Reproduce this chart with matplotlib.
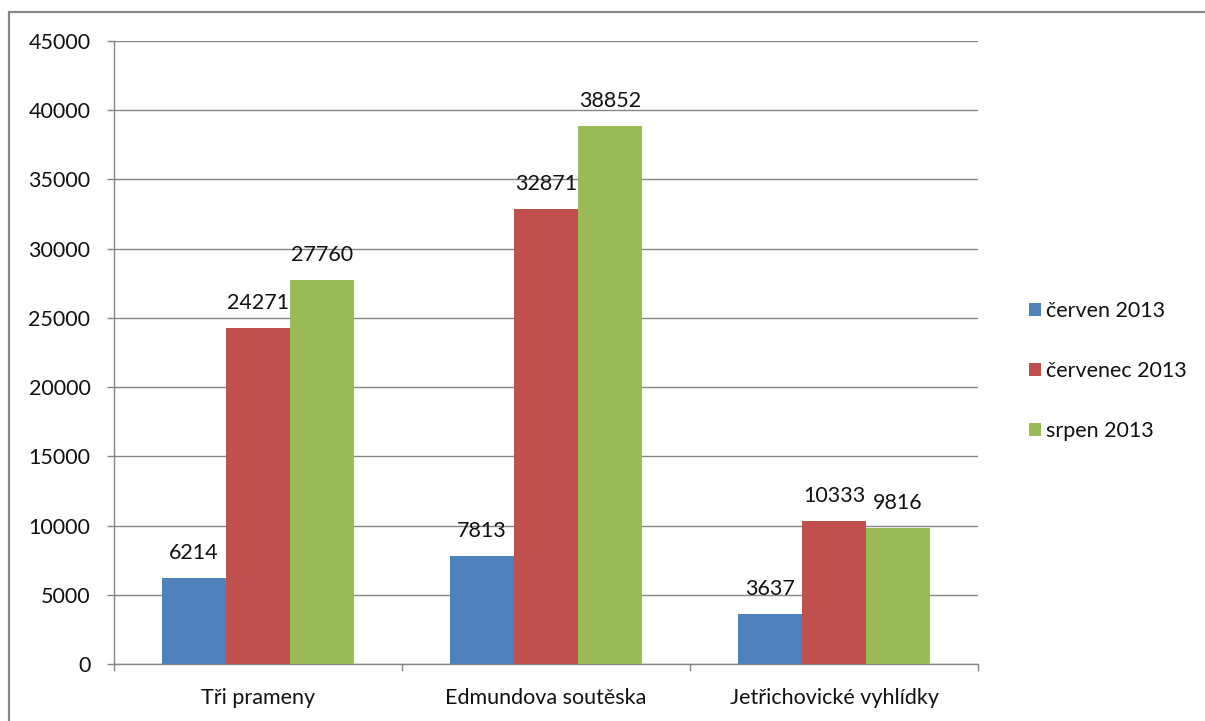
import matplotlib
matplotlib.use('Agg')
import matplotlib.pyplot as plt
from matplotlib.patches import Rectangle
from matplotlib.ticker import MultipleLocator, FixedLocator
import numpy as np

plt.rcParams['font.family'] = ['Lato', 'DejaVu Sans']

categories = ['Tři prameny', 'Edmundova soutěska', 'Jetřichovické vyhlídky']
series_names = ['červen 2013', 'červenec 2013', 'srpen 2013']
cerven = [6214, 7813, 3637]
cervenec = [24271, 32871, 10333]
srpen = [27760, 38852, 9816]
colors = ['#4F81BD', '#C0504D', '#9BBB59']

W, H = 1205, 721
fig = plt.figure(figsize=(W / 100, H / 100), dpi=100)
ax = fig.add_axes([114 / W, 1 - 664 / H, (978 - 114) / W, (664 - 41) / H])

# outer chart border (gray frame)
fig.patches.append(Rectangle((9 / W, -0.05), 1.1, 1 - 12 / H + 0.05,
                             transform=fig.transFigure, fill=False,
                             edgecolor='#868686', linewidth=1.6))

x = np.arange(len(categories))
bw = 1 / 4.5
gray = '#868686'
fs = 15.5
txt = '#111111'

for i, (vals, name, col) in enumerate(zip([cerven, cervenec, srpen], series_names, colors)):
    bars = ax.bar(x + (i - 1) * bw, vals, bw, color=col, label=name, zorder=3)
    for b, v in zip(bars, vals):
        ax.annotate(str(v), (b.get_x() + b.get_width() / 2, v),
                    xytext=(0, 25), textcoords='offset pixels',
                    ha='center', va='center', fontsize=fs, color=txt, zorder=4)

ax.set_ylim(0, 45000)
ax.set_xlim(-0.5, 2.5)
ax.yaxis.set_major_locator(MultipleLocator(5000))
ax.grid(axis='y', color=gray, linewidth=1, zorder=0)

ax.set_xticks(x)
ax.set_xticklabels(categories)
ax.xaxis.set_minor_locator(FixedLocator([-0.5, 0.5, 1.5, 2.5]))
ax.tick_params(axis='x', which='major', length=0, pad=17, labelsize=fs, labelcolor=txt)
ax.tick_params(axis='x', which='minor', length=5, width=1, color=gray)
ax.tick_params(axis='y', length=5, width=1, color=gray, pad=12, labelsize=fs, labelcolor=txt)

for s in ['top', 'right']:
    ax.spines[s].set_visible(False)
for s in ['left', 'bottom']:
    ax.spines[s].set_color(gray)
    ax.spines[s].set_linewidth(1)

leg = fig.legend(loc='center left', bbox_to_anchor=(1018 / W, 1 - 371 / H),
                 frameon=False, fontsize=fs, handlelength=0.55, handleheight=0.55,
                 handletextpad=0.25, labelspacing=1.85, borderpad=0)
for t in leg.get_texts():
    t.set_color(txt)

fig.savefig('out.png', dpi=100)
